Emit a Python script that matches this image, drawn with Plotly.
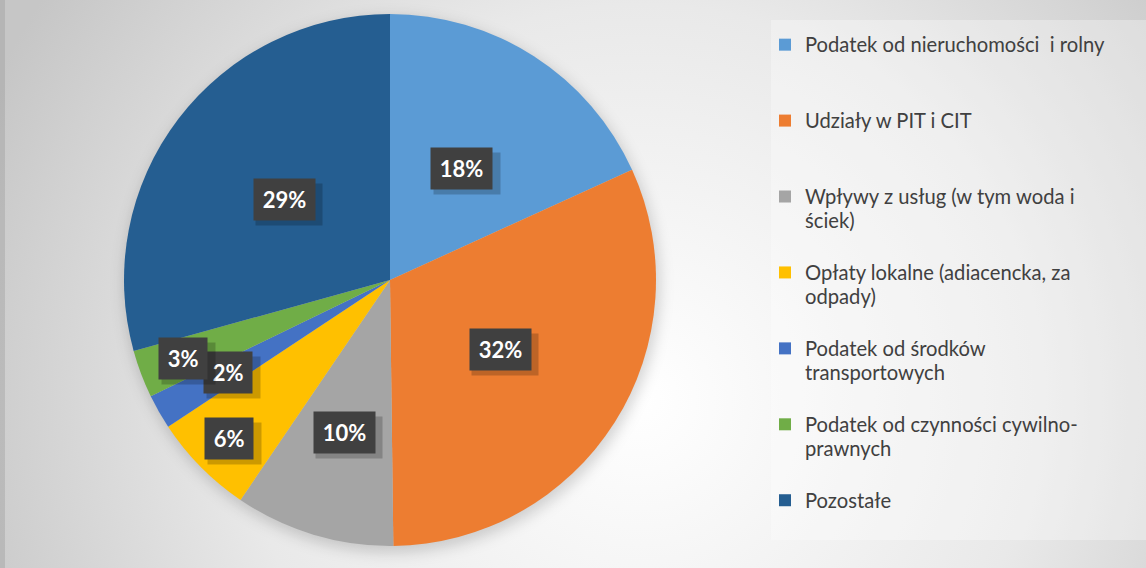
import base64
import math
import plotly.graph_objects as go

# data (share of revenue, %)
categories = [
    "Podatek od nieruchomości  i rolny",
    "Udziały w PIT i CIT",
    "Wpływy z usług (w tym woda i<br>ściek)",
    "Opłaty lokalne (adiacencka, za<br>odpady)",
    "Podatek od środków<br>transportowych",
    "Podatek od czynności cywilno-<br>prawnych",
    "Pozostałe",
]
values = [18.2, 31.6, 9.7, 6.2, 2.1, 2.9, 29.3]
colors = ["#5B9BD5", "#ED7D31", "#A5A5A5", "#FFC000", "#4472C4", "#70AD47", "#255E91"]

# radial position (fraction of radius) of each percentage box
label_r = [0.5, 0.49, 0.6, 0.85, 0.7, 0.83, 0.5]

W, H = 1146, 568
cx, cy, R = 390, 280, 266

# background: radial grey gradient + soft pie shadow, as an svg image
svg = f'''<svg xmlns="http://www.w3.org/2000/svg" width="{W}" height="{H}">
<defs><radialGradient id="g" gradientUnits="userSpaceOnUse" cx="640" cy="400" r="720">
<stop offset="0" stop-color="#ffffff"/>
<stop offset="0.55" stop-color="#e9e9e9"/>
<stop offset="1" stop-color="#c6c6c6"/>
</radialGradient>
<filter id="b" x="-20%" y="-20%" width="140%" height="140%"><feGaussianBlur stdDeviation="7"/></filter></defs>
<rect width="{W}" height="{H}" fill="url(#g)"/>
<circle cx="{cx + 2}" cy="{cy + 5}" r="{R + 2}" fill="rgba(0,0,0,0.16)" filter="url(#b)"/>
</svg>'''
bg_uri = "data:image/svg+xml;base64," + base64.b64encode(svg.encode()).decode()

# pad every legend entry to 3 lines so items are evenly spaced,
# text itself drawn a bit bigger than the legend line height
legend_labels = []
for c in categories:
    n = c.count("<br>") + 1
    lines = c.split("<br>")
    txt = "<br>".join(f"<span style='font-size:20.2px'>{l}</span>" for l in lines)
    legend_labels.append(txt + "<br>\u00a0" * (3 - n))

fig = go.Figure()
fig.add_trace(go.Pie(
    labels=legend_labels, values=values, sort=False, direction="clockwise",
    marker=dict(colors=colors, line=dict(width=0)),
    textinfo="none", hovertext=[c.replace("<br>", " ") for c in categories],
    hovertemplate="%{hovertext}: %{percent}<extra></extra>",
    domain=dict(x=[(cx - R) / W, (cx + R) / W], y=[1 - (cy + R) / H, 1 - (cy - R) / H]),
))

# percentage boxes placed at the middle angle of each slice
total = sum(values)
cum = 0
annots = []
for v, rf in zip(values, label_r):
    mid = (cum + v / 2) / total * 2 * math.pi
    cum += v
    px = cx + rf * R * math.sin(mid)
    py = cy - rf * R * math.cos(mid)
    txt = f"{round(v / total * 100)}%"
    box = dict(xref="paper", yref="paper", showarrow=False, xanchor="center", yanchor="middle",
               height=29, borderpad=6)
    # soft shadow (empty box of roughly the same width)
    annots.append(dict(box, x=(px + 5) / W, y=1 - (py + 5) / H, text="\u00a0",
                       width=12.8 * (len(txt) - 1) + 28, bgcolor="rgba(0,0,0,0.2)",
                       font=dict(family="Lato", size=22)))
    annots.append(dict(box, x=px / W, y=1 - py / H, text=f"\u2009<b>{txt}</b>\u2009",
                       bgcolor="#404040", font=dict(family="Lato", size=22, color="white")))

fig.update_layout(
    width=W, height=H,
    margin=dict(l=0, r=0, t=0, b=0),
    paper_bgcolor="#dcdcdc",
    images=[dict(source=bg_uri, xref="paper", yref="paper", x=0, y=1, sizex=1, sizey=1,
                 sizing="stretch", layer="below")],
    shapes=[
        dict(type="rect", xref="paper", yref="paper", x0=771 / W, x1=1, y0=1 - 540 / H, y1=1 - 20 / H,
             fillcolor="rgba(255,255,255,0.3)", line=dict(width=0), layer="below"),
        dict(type="rect", xref="paper", yref="paper", x0=0, x1=5 / W, y0=0, y1=1,
             fillcolor="rgba(150,150,150,0.35)", line=dict(width=0), layer="below"),
    ],
    annotations=annots,
    showlegend=True,
    legend=dict(x=765 / W, y=1 - 27 / H, xanchor="left", yanchor="top", valign="top",
                bgcolor="rgba(0,0,0,0)", font=dict(family="Lato", size=18.7, color="#404040"),
                traceorder="normal"),
    font=dict(family="Lato"),
)

fig.write_html("out.html", config={"displayModeBar": False},
               post_script="document.body.style.margin='0';")
